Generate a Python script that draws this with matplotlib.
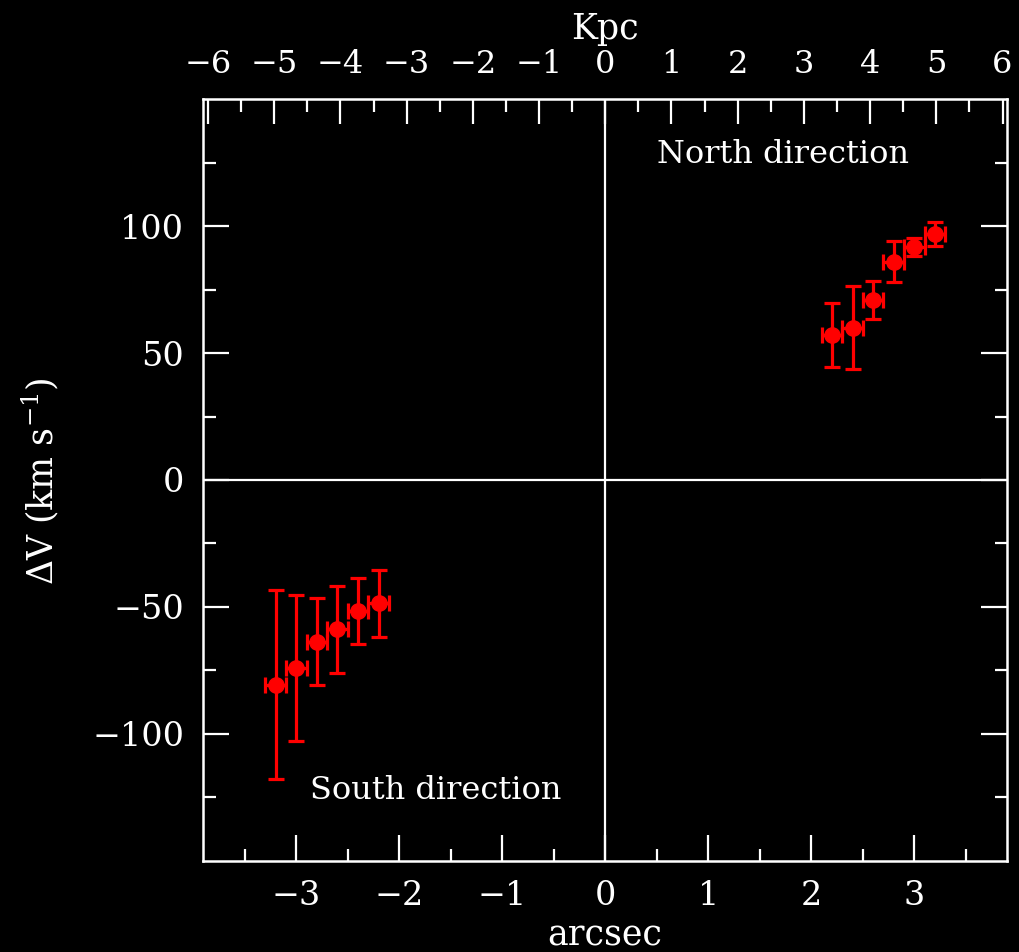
import matplotlib
matplotlib.use("Agg")
import matplotlib.pyplot as plt
from matplotlib.ticker import MultipleLocator, FixedLocator

# arcsec offsets and velocity differences
north_x = [2.2, 2.4, 2.6, 2.8, 3.0, 3.2]
north_v = [57, 60, 70.8, 86, 91.6, 96.9]
north_verr = [12.5, 16.4, 7.6, 8.0, 3.5, 4.8]
south_x = [-3.2, -3.0, -2.8, -2.6, -2.4, -2.2]
south_v = [-80.7, -74.0, -63.6, -58.7, -51.6, -48.5]
south_verr = [37.2, 28.7, 17.2, 17.1, 13.0, 13.2]
x_err = 0.1
kpc_per_arcsec = 1.556
v_ticks = [-100, -50, 0, 50, 100]
v_minor = [-125, -75, -25, 25, 75, 125]

plt.rcParams['font.family'] = ['DejaVu Serif']
plt.rcParams['mathtext.fontset'] = 'dejavuserif'

fig = plt.figure(figsize=(10.2, 9.52), dpi=100, facecolor='black')
ax = fig.add_axes([0.1995, 0.0956, 0.7878, 0.8004], facecolor='black')

ax.axhline(0, color='white', lw=1.6)
ax.axvline(0, color='white', lw=1.6)

for xs, vs, es in [(north_x, north_v, north_verr), (south_x, south_v, south_verr)]:
    ax.errorbar(xs, vs, yerr=es, xerr=x_err, fmt='o', color='red', ms=11,
                elinewidth=2.3, capsize=5.5, capthick=2.3)

ax.set_xlim(-3.9, 3.9)
ax.set_ylim(-150, 150)

ax.text(0.5, 125, 'North direction', color='white', fontsize=23)
ax.text(-2.87, -125.5, 'South direction', color='white', fontsize=23)

for s in ax.spines.values():
    s.set_color('white')
    s.set_linewidth(1.8)

ax.xaxis.set_major_locator(MultipleLocator(1))
ax.xaxis.set_minor_locator(MultipleLocator(0.5))
ax.yaxis.set_major_locator(FixedLocator(v_ticks))
ax.yaxis.set_minor_locator(FixedLocator(v_minor))
ax.tick_params(which='both', direction='in', colors='white', width=1.6,
               labelsize=24, pad=14, top=False, right=True)
ax.tick_params(which='major', length=19)
ax.tick_params(which='minor', length=9)

top = ax.secondary_xaxis('top', functions=(lambda x: x * kpc_per_arcsec,
                                            lambda x: x / kpc_per_arcsec))
top.xaxis.set_major_locator(MultipleLocator(1))
top.xaxis.set_minor_locator(MultipleLocator(0.5))
top.tick_params(which='both', direction='in', colors='white', width=1.6,
                labelsize=23, pad=14)
top.tick_params(which='major', length=18)
top.tick_params(which='minor', length=9)
top.spines['top'].set_color('white')

fig.text(0.593, 0.97, 'Kpc', color='white', fontsize=25, ha='center', va='center')
fig.text(0.593, 0.017, 'arcsec', color='white', fontsize=25, ha='center', va='center')
fig.text(0.04, 0.495, r'$\Delta$V (km s$^{-1}$)', color='white', fontsize=25,
         ha='center', va='center', rotation=90)

fig.savefig('out.png', dpi=100, facecolor='black')
